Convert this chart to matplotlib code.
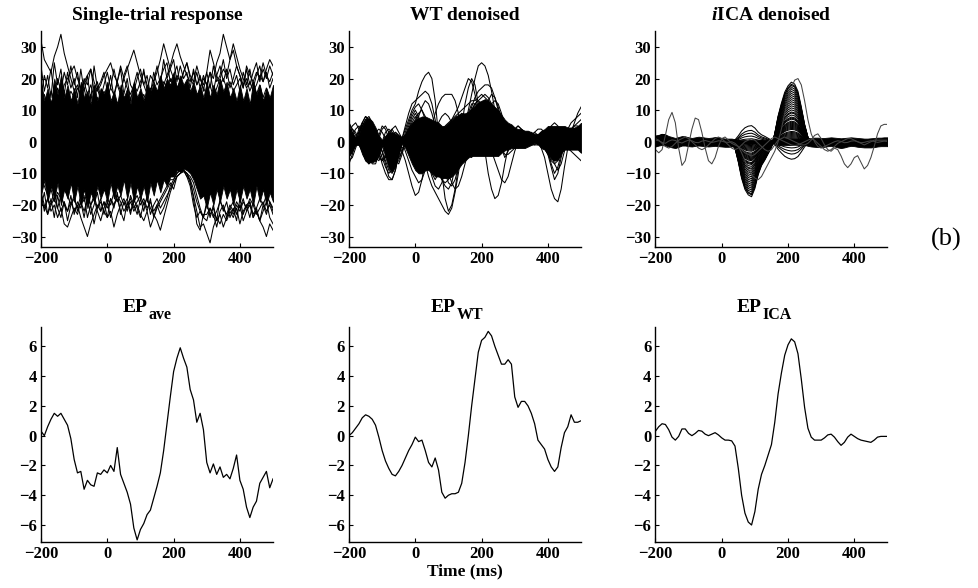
import numpy as np
import matplotlib
matplotlib.use('Agg')
import matplotlib.pyplot as plt

# time axis (ms), one sample every 10 ms
time_ms = np.arange(-200, 501, 10)

# ---------- averaged evoked potentials (bottom row) ----------
ep_ave = [0.3, 0.0, 0.6, 1.1, 1.5, 1.3, 1.5, 1.1, 0.7, -0.2,
          -1.6, -2.5, -2.4, -3.6, -3.0, -3.3, -3.4, -2.5, -2.6, -2.3,
          -2.5, -2.0, -2.4, -0.8, -2.6, -3.2, -3.8, -4.6, -6.2, -7.0,
          -6.3, -5.9, -5.3, -5.0, -4.2, -3.4, -2.5, -1.0, 0.8, 2.6,
          4.3, 5.2, 5.9, 5.2, 4.6, 3.1, 2.4, 0.9, 1.5, 0.4,
          -1.8, -2.5, -1.9, -2.6, -2.1, -2.8, -2.6, -2.9, -2.2, -1.3,
          -3.0, -3.6, -4.8, -5.5, -4.8, -4.4, -3.2, -2.8, -2.4, -3.5, -2.9]

ep_wt = [0.0, 0.2, 0.5, 0.8, 1.2, 1.4, 1.3, 1.1, 0.7, -0.1,
         -1.0, -1.7, -2.2, -2.6, -2.7, -2.4, -2.0, -1.5, -1.0, -0.6,
         -0.1, -0.4, -0.3, -1.0, -1.8, -2.1, -1.5, -2.3, -3.8, -4.2,
         -4.0, -3.9, -3.9, -3.8, -3.2, -1.8, 0.0, 2.0, 3.8, 5.6,
         6.4, 6.6, 7.0, 6.7, 6.0, 5.4, 4.8, 4.8, 5.1, 4.8,
         2.6, 1.9, 2.3, 2.3, 2.0, 1.5, 0.8, -0.3, -0.6, -0.9,
         -1.6, -2.1, -2.4, -2.1, -0.8, 0.2, 0.6, 1.4, 0.9, 0.9, 1.0]

ep_ica = [0.3, 0.6, 0.8, 0.75, 0.4, -0.1, -0.3, -0.05, 0.45, 0.45,
          0.15, 0.0, 0.15, 0.35, 0.3, 0.1, 0.0, 0.1, 0.2, 0.05,
          -0.15, -0.3, -0.3, -0.35, -0.7, -2.2, -4.0, -5.2, -5.8, -6.0,
          -5.1, -3.6, -2.6, -2.0, -1.3, -0.6, 0.9, 2.8, 4.2, 5.4,
          6.1, 6.5, 6.3, 5.5, 3.8, 1.9, 0.5, -0.1, -0.3, -0.3,
          -0.3, -0.15, 0.05, 0.1, -0.1, -0.4, -0.65, -0.45, -0.1, 0.1,
          -0.05, -0.2, -0.3, -0.35, -0.4, -0.45, -0.3, -0.1, -0.05, -0.05, -0.05]

# ---------- single-trial responses (top left) ----------
# dense core where the trials overlap
raw_core_upper = [19, 13, 17, 12, 20, 15, 21, 14, 18, 13,
                  17, 12, 19, 14, 16, 12, 18, 13, 17, 15,
                  19, 13, 16, 12, 18, 14, 17, 12, 19, 14,
                  17, 13, 18, 15, 19, 16, 21, 17, 20, 18,
                  22, 17, 21, 18, 20, 16, 19, 15, 18, 14,
                  19, 14, 18, 15, 20, 16, 19, 14, 17, 13,
                  18, 13, 17, 12, 19, 15, 18, 13, 17, 14, 18]
raw_core_lower = [-17, -12, -19, -14, -18, -13, -20, -15, -18, -13,
                  -19, -14, -20, -15, -21, -16, -19, -14, -18, -15,
                  -19, -13, -18, -14, -17, -12, -18, -13, -19, -14,
                  -18, -14, -19, -13, -17, -12, -16, -12, -14, -11,
                  -11, -9, -9.5, -8.5, -9, -10, -12, -15, -18, -17,
                  -21, -16, -20, -15, -19, -14, -18, -15, -20, -15,
                  -19, -14, -18, -15, -20, -14, -19, -15, -20, -16, -19]
# individual trials at the edges of the band
raw_trials = [
    [32, 26, 24, 22, 27, 30, 34, 28, 24, 20,
     16, 18, 14, 17, 12, 15, 11, 14, 10, 13,
     9, 12, 8, 11, 14, 10, 13, 9, 12, 10,
     13, 15, 12, 16, 19, 22, 26, 31, 27, 23,
     20, 17, 19, 15, 18, 14, 16, 13, 17, 20,
     18, 22, 20, 25, 28, 34, 30, 26, 29, 24,
     21, 18, 20, 16, 19, 15, 18, 14, 17, 13, 15],
    [12, 15, 11, 16, 13, 17, 14, 18, 20, 22,
     24, 20, 17, 19, 15, 18, 14, 17, 13, 16,
     14, 17, 15, 19, 16, 20, 23, 26, 29, 25,
     21, 18, 15, 17, 13, 16, 14, 18, 21, 24,
     28, 31, 27, 24, 21, 19, 22, 18, 20, 17,
     15, 18, 14, 17, 20, 23, 21, 26, 31, 27,
     23, 20, 17, 19, 16, 18, 21, 19, 23, 26, 24],
    [8, 11, 9, 13, 10, 14, 12, 15, 13, 16,
     14, 17, 15, 19, 21, 23, 19, 16, 18, 21,
     23, 25, 21, 19, 24, 20, 17, 15, 18, 16,
     19, 22, 18, 15, 17, 14, 16, 19, 17, 20,
     18, 21, 19, 22, 25, 21, 19, 24, 20, 18,
     22, 29, 25, 21, 18, 20, 17, 19, 16, 18,
     20, 17, 24, 21, 19, 22, 20, 25, 21, 19, 22],
    [24, 16, 21, 14, 25, 18, 23, 15, 22, 17,
     20, 14, 23, 16, 21, 13, 24, 17, 19, 22,
     16, 21, 14, 19, 23, 15, 20, 13, 18, 22,
     17, 23, 16, 21, 19, 24, 18, 26, 20, 23,
     26, 19, 24, 20, 22, 17, 23, 18, 21, 16,
     22, 17, 24, 19, 21, 26, 20, 23, 18, 21,
     16, 22, 18, 23, 17, 21, 24, 19, 22, 17, 20],
    [14, 21, 17, 23, 15, 20, 16, 22, 18, 24,
     18, 22, 15, 20, 18, 23, 16, 19, 14, 18,
     22, 17, 23, 18, 15, 21, 24, 18, 16, 20,
     23, 18, 21, 15, 22, 18, 20, 23, 25, 19,
     21, 24, 18, 22, 25, 20, 18, 22, 17, 21,
     18, 22, 16, 21, 24, 19, 23, 17, 20, 24,
     21, 17, 23, 18, 22, 25, 19, 23, 20, 24, 21],
    [-19, -21, -18, -22, -20, -24, -21, -26, -27, -24,
     -21, -23, -19, -22, -18, -20, -17, -21, -19, -22,
     -24, -22, -27, -23, -20, -18, -21, -19, -22, -20,
     -23, -25, -22, -27, -24, -21, -19, -17, -15, -13,
     -15, -11, -10, -9, -11, -12, -18, -26, -28, -23,
     -23, -21, -24, -22, -19, -21, -23, -20, -22, -19,
     -21, -18, -22, -20, -24, -22, -25, -27, -30, -26, -28],
    [-16, -20, -23, -20, -18, -21, -17, -20, -22, -19,
     -22, -20, -24, -27, -30, -26, -23, -20, -22, -19,
     -21, -18, -20, -17, -19, -22, -20, -18, -21, -19,
     -17, -20, -18, -21, -23, -25, -28, -24, -20, -16,
     -13, -11, -10, -9, -10, -13, -17, -22, -27, -26,
     -29, -32, -27, -24, -26, -23, -25, -22, -24, -21,
     -26, -22, -20, -19, -23, -21, -18, -20, -17, -19, -21],
    [-12, -14, -17, -15, -19, -16, -18, -15, -17, -20,
     -18, -21, -17, -19, -16, -20, -18, -22, -25, -21,
     -18, -20, -16, -19, -17, -20, -18, -22, -19, -17,
     -20, -18, -21, -19, -22, -20, -18, -16, -14, -12,
     -12, -10, -9, -9, -11, -14, -20, -24, -22, -24,
     -20, -23, -21, -25, -23, -27, -24, -21, -23, -20,
     -22, -19, -21, -18, -20, -23, -21, -19, -22, -20, -23],
    [-21, -16, -23, -18, -24, -17, -22, -19, -25, -20,
     -17, -22, -19, -24, -18, -23, -20, -16, -22, -19,
     -24, -18, -21, -16, -23, -19, -22, -17, -20, -23,
     -18, -22, -17, -23, -20, -18, -21, -19, -17, -15,
     -13, -11, -10, -9.5, -10, -12, -15, -19, -22, -24,
     -19, -24, -20, -25, -18, -22, -19, -24, -21, -25,
     -18, -23, -20, -24, -19, -22, -25, -20, -23, -19, -22],
    [-16, -22, -18, -20, -15, -21, -24, -19, -22, -17,
     -23, -19, -21, -17, -24, -20, -26, -21, -18, -23,
     -19, -24, -20, -18, -22, -25, -19, -23, -18, -21,
     -24, -19, -22, -18, -24, -20, -23, -21, -18, -14,
     -12, -10, -9, -9, -10, -11, -13, -17, -21, -24,
     -25, -21, -23, -27, -22, -20, -24, -21, -19, -23,
     -20, -25, -22, -19, -24, -21, -25, -22, -19, -24, -26],
]

# ---------- WT denoised trials (top middle) ----------
wt_core_upper = [4.5, 2.5, 1.5, 2, 5, 7, 7.5, 6.5, 4.5, 2,
                 0.5, 2, 3, 3, 2.5, 2, 1.5, 2.5, 4.5, 6,
                 7, 7.5, 8, 8, 7.5, 7, 6.5, 6, 5, 5,
                 6, 7, 8, 8.5, 9, 9, 9.5, 10.5, 11.5, 12.5,
                 13, 13.5, 13, 12, 11, 10, 8.5, 7, 6, 5.5,
                 4.5, 4, 4, 3.5, 3.5, 3, 2.5, 2.5, 3.5, 4,
                 5, 5, 5, 5, 5, 5, 4.5, 4.5, 4.5, 5, 6]
wt_core_lower = [-4.5, -3, -1, -1, -4, -6, -6.5, -6.5, -6, -3.5,
                 -1, -5, -8.5, -9.5, -7.5, -4, -0.3, -2, -4.5, -7,
                 -9, -10, -10, -9, -9, -10, -11, -11, -11.5, -11.5,
                 -11.5, -11, -10, -8.5, -7, -6, -5, -4.5, -4.5, -4.5,
                 -4.5, -4.5, -4.5, -4.5, -4.5, -4.5, -3.5, -2.5, -2.5, -2,
                 -2, -2, -2, -2, -1.5, -1, -0.3, -0.8, -2, -2.5,
                 -4, -5.5, -6, -5.5, -3.5, -2.5, -2.5, -2.5, -2.5, -2.5, -3.5]
wt_trials = [
    [2, 1, 0, 2, 5, 7, 8, 6, 3, 0,
     -3, -6, -9, -10, -8, -4, 0, 2, 4, 6,
     8, 6, 3, 0, -3, -6, -8, -10, -12, -13,
     -12, -10, -7, -3, 1, 5, 10, 15, 20, 24,
     25, 24, 21, 16, 10, 4, -2, -5, -3, 0,
     2, 3, 3, 2, 1, 0, 1, 2, 3, 2,
     0, -3, -6, -5, -2, 1, 3, 4, 5, 5, 4],
    [-3, -2, 0, 1, 3, 5, 6, 4, 1, -2,
     -5, -8, -10, -9, -6, -2, 1, 4, 7, 10,
     12, 16, 19, 21, 22, 20, 13, 2, -10, -18,
     -22, -20, -15, -8, -2, 3, 7, 10, 12, 13,
     12, 10, 8, 7, 6, 5, 5, 4, 3, 2,
     1, 0, 1, 2, 3, 2, 1, 0, -1, -2,
     -4, -8, -12, -10, -5, -1, 2, 4, 5, 6, 7],
    [4, 3, 1, -1, -3, -4, -3, 0, 3, 4,
     3, 1, -2, -5, -7, -6, -3, 0, 2, 5,
     7, 9, 10, 8, 5, 0, -5, -9, -12, -14,
     -15, -13, -8, -2, 5, 12, 17, 20, 18, 12,
     5, -3, -10, -15, -18, -17, -13, -7, -2, 2,
     4, 5, 4, 3, 2, 1, 0, -1, -1, 0,
     -3, -7, -10, -8, -4, 0, 2, 3, 2, 1, 0],
    [-5, -3, 0, 3, 6, 8, 7, 3, -1, -4,
     -6, -5, -2, 1, 3, 2, 1, 0, -1, -2,
     -4, -6, -8, -9, -8, -6, -3, 0, 3, 5,
     6, 7, 8, 9, 10, 11, 12, 13, 13, 14,
     15, 14, 13, 11, 9, 8, 7, 6, 5, 4,
     3, 2, 1, 0, 0, 1, 1, 0, -2, -5,
     -10, -15, -18, -19, -15, -8, -2, 2, 4, 3, 2],
    [6, 4, 2, 3, 5, 4, 1, -3, -6, -5,
     -2, 1, 3, 4, 2, -1, -3, -6, -10, -14,
     -17, -16, -12, -6, 0, 5, 9, 12, 14, 15,
     15, 15, 13, 9, 4, -1, -4, -5, -3, 1,
     6, 10, 13, 15, 14, 11, 7, 4, 2, 1,
     0, -1, 0, 1, 2, 3, 2, 1, 0, 1,
     2, 3, 4, 3, 2, 0, -2, -3, -4, -5, -6],
    [0, -1, 1, 4, 6, 5, 2, -2, -5, -6,
     -4, -1, 2, 4, 5, 3, 1, 2, 5, 8,
     10, 8, 4, -1, -6, -10, -12, -10, -5, 0,
     4, 7, 9, 11, 14, 17, 20, 19, 15, 10,
     6, 3, 0, -3, -6, -9, -12, -13, -11, -7,
     -3, 0, 2, 3, 3, 2, 1, 0, 0, 1,
     1, 0, -2, -4, -3, -1, 1, 3, 6, 9, 11],
    [-7, -4, 0, 3, 5, 7, 7, 5, 1, -3,
     -7, -10, -12, -12, -9, -4, 1, 5, 9, 12,
     13, 14, 15, 16, 15, 12, 7, 1, -5, -10,
     -13, -14, -12, -8, -3, 2, 7, 11, 14, 16,
     17, 18, 18, 17, 14, 10, 6, 3, 1, 0,
     -1, -1, 0, 1, 2, 2, 1, 0, 0, -1,
     -2, -4, -7, -9, -7, -3, 0, 2, 3, 4, 5],
    [3, 5, 6, 4, 0, -4, -7, -6, -3, 1,
     4, 5, 3, 0, -3, -5, -3, 0, 3, 5,
     4, 1, -3, -7, -11, -14, -16, -18, -20, -22,
     -23, -21, -16, -10, -3, 4, 9, 12, 12, 11,
     10, 9, 10, 12, 13, 12, 9, 5, 2, 0,
     -1, -2, -1, 0, 1, 2, 3, 2, 1, 0,
     -1, -3, -5, -6, -4, -2, 0, 1, 0, -1, -2],
    [6, 3, 0, 2, 6, 8, 7, 4, 1, -1,
     -3, -7, -11, -12, -9, -4, -1, 3, 6, 9,
     11, 12, 10, 7, 4, 1, -2, -5, -8, -10,
     -11, -10, -8, -5, -1, 3, 7, 10, 12, 13,
     14, 15, 14, 12, 10, 8, 6, 4, 3, 3,
     4, 5, 4, 3, 2, 2, 3, 4, 4, 3,
     1, -2, -4, -3, -1, 2, 4, 6, 7, 8, 9],
    [-6, -5, -2, 1, 4, 6, 5, 2, -2, -5,
     -6, -4, -1, 2, 3, 2, 0, -3, -6, -9,
     -11, -13, -12, -9, -5, -1, 3, 6, 8, 9,
     8, 6, 3, 0, -2, -3, -2, 1, 5, 9,
     12, 13, 12, 9, 5, 1, -2, -4, -4, -3,
     -2, -1, 0, 1, 1, 0, -1, -1, 0, 1,
     3, 5, 6, 5, 3, 1, -1, -2, -1, 0, 1],
    [2, 4, 3, 0, -3, -6, -7, -5, -2, 2,
     5, 4, 1, -3, -6, -7, -4, 0, 4, 7,
     9, 7, 3, -2, -7, -11, -14, -15, -13, -9,
     -4, 1, 5, 8, 9, 8, 6, 5, 6, 8,
     10, 11, 10, 8, 5, 3, 1, 0, 1, 2,
     3, 3, 2, 1, 0, -1, -1, 0, 1, 2,
     2, 1, -1, -3, -2, 0, 2, 3, 3, 2, 1],
    [-1, 2, 4, 5, 3, 0, -4, -7, -7, -4,
     0, 3, 4, 3, 1, -1, -2, -1, 1, 3,
     5, 8, 11, 13, 12, 9, 5, 1, -3, -7,
     -10, -13, -15, -14, -11, -7, -3, 1, 5, 8,
     9, 8, 6, 3, 0, -2, -3, -3, -2, -1,
     0, 1, 2, 3, 3, 2, 1, 0, -1, -2,
     -4, -6, -7, -6, -3, 0, 2, 3, 2, 0, -2],
]

# ---------- iICA denoised trials (top right) ----------
# amplitude of the ICA component in each trial
ica_trial_weights = [2.9, 2.8, 2.75, 2.65, 2.55, 2.45, 2.35, 2.25, 2.15, 2.05,
                     1.95, 1.85, 1.75, 1.65, 1.55, 1.45, 1.4, 1.3, 1.2, 1.15,
                     1.1, 1.0, 0.95, 0.9, 0.85, 0.8, 0.75, 0.7, 0.65, 0.6,
                     0.5, 0.45, 0.4, 0.35, 0.3, 0.25, 0.2, 0.15, 0.1, 0.05,
                     -0.05, -0.15, -0.3, -0.45, -0.6, -0.85]
# residual background band around zero
ica_band_upper = [2.0, 2.2, 2.5, 2.3, 1.8, 1.5, 1.2, 1.5, 1.8, 1.7,
                  1.4, 1.2, 1.4, 1.6, 1.5, 1.3, 1.2, 1.3, 1.5, 1.4,
                  1.2, 1.0, 1.0, 1.0, 0.8, 0.5, 0.5, 0.5, 0.5, 0.5,
                  0.5, 0.5, 0.5, 0.5, 0.5, 0.5, 0.8, 1.0, 1.0, 1.0,
                  1.0, 1.0, 1.0, 1.0, 1.0, 1.0, 1.2, 1.2, 1.3, 1.3,
                  1.2, 1.2, 1.3, 1.4, 1.3, 1.2, 1.1, 1.2, 1.3, 1.4,
                  1.3, 1.2, 1.1, 1.0, 1.0, 1.1, 1.2, 1.3, 1.3, 1.4, 1.4]
ica_band_lower = [-1.5, -1.2, -1.0, -1.2, -1.5, -1.8, -2.0, -1.6, -1.2, -1.2,
                  -1.4, -1.5, -1.3, -1.2, -1.3, -1.4, -1.5, -1.4, -1.3, -1.4,
                  -1.5, -1.6, -1.6, -1.5, -1.2, -0.8, -0.5, -0.5, -0.5, -0.5,
                  -0.5, -0.5, -0.5, -0.5, -0.5, -0.5, -0.8, -1.0, -1.0, -1.0,
                  -1.0, -1.0, -1.0, -1.0, -1.0, -1.0, -1.3, -1.5, -1.6, -1.7,
                  -1.7, -1.6, -1.4, -1.3, -1.5, -1.8, -2.0, -1.8, -1.5, -1.3,
                  -1.4, -1.6, -1.7, -1.8, -1.8, -1.8, -1.7, -1.5, -1.4, -1.4, -1.4]
ica_odd_trials = [
    [-2.5, -3.5, -2.5, 2.0, 7.0, 9.3, 6.0, -2.0, -7.5, -6.0,
     -1.0, 4.0, 7.5, 7.0, 3.0, -2.0, -6.0, -7.0, -5.0, -1.5,
     1.0, 1.5, 0.5, -0.5, -1.0, -1.5, -2.5, -3.5, -4.0, -4.5,
     -4.0, -3.0, -2.0, -1.0, 0.0, 1.0, 1.5, 1.0, 0.5, 0.0,
     -0.5, -1.0, -1.2, -1.0, -0.5, 0.0, 0.5, 1.0, 0.5, -0.5,
     -1.5, -2.5, -3.0, -2.5, -1.5, -0.5, 0.0, 0.5, 1.0, 1.0,
     0.5, 0.0, -0.5, -1.0, -0.5, 0.0, 0.5, 0.5, 0.5, 0.5, 0.5],
    [1.0, 0.5, -0.5, -1.5, -2.0, -1.5, -0.5, 0.5, 1.0, 1.5,
     1.0, 0.0, -1.0, -2.0, -2.5, -2.0, -1.0, 0.0, 1.0, 1.5,
     1.0, 0.0, -1.0, -2.0, -2.5, -2.0, -1.0, 0.0, 0.5, 1.0,
     0.5, -0.5, -1.5, -2.5, -3.0, -2.5, -1.0, 0.5, 1.0, 1.5,
     1.0, 0.5, 0.0, -0.5, -1.0, -1.0, -0.5, 0.5, 2.0, 2.5,
     1.0, -1.0, -2.5, -3.0, -2.0, -2.5, -4.5, -7.0, -8.2, -7.0,
     -5.0, -4.4, -6.5, -8.6, -7.5, -5.0, -1.5, 2.5, 5.0, 5.5, 5.5],
    [0.5, 0.3, -0.2, -0.5, 0.2, 0.6, 0.4, -0.1, -0.4, 0.1,
     0.5, 0.3, -0.2, -0.3, 0.2, 0.4, 0.1, -0.2, 0.0, 0.3,
     0.2, -0.1, -0.2, 0.0, -0.5, -1.5, -3.5, -6.0, -8.5, -10.5,
     -11.5, -12.0, -11.0, -9.0, -7.0, -5.0, -3.0, 0.0, 4.0, 9.0,
     13.5, 17.0, 19.5, 20.0, 18.0, 13.0, 7.0, 2.5, 0.0, -1.5,
     -2.0, -1.5, -1.0, -0.5, 0.0, 0.3, 0.1, -0.3, -0.2, 0.2,
     0.3, 0.0, -0.3, -0.2, 0.1, 0.3, 0.1, -0.2, 0.0, 0.2, 0.1],
]

top_titles = ['Single-trial response', 'WT denoised', r'$\mathit{i}$ICA denoised']
ep_subscripts = ['ave', 'WT', 'ICA']

plt.rcParams['font.family'] = ['Liberation Serif', 'DejaVu Serif']
plt.rcParams['font.weight'] = 'bold'
plt.rcParams['mathtext.fontset'] = 'custom'
plt.rcParams['mathtext.rm'] = 'Liberation Serif:bold'
plt.rcParams['mathtext.it'] = 'Liberation Serif:italic:bold'
plt.rcParams['mathtext.bf'] = 'Liberation Serif:bold'


def style_axes(ax, ylim, yticks):
    ax.set_xlim(-200, 500)
    ax.set_ylim(*ylim)
    ax.set_xticks([-200, 0, 200, 400])
    ax.set_yticks(yticks)
    for side in ['top', 'right']:
        ax.spines[side].set_visible(False)
    for side in ['left', 'bottom']:
        ax.spines[side].set_linewidth(1.0)
    ax.tick_params(direction='in', length=3, width=0.8, labelsize=12, pad=3)
    for lab in ax.get_xticklabels() + ax.get_yticklabels():
        lab.set_fontweight('bold')


fig = plt.figure(figsize=(9.79, 5.88), dpi=100)
lefts = [0.0419, 0.3565, 0.6695]
width = 0.237
top_axes = [fig.add_axes([l, 0.580, width, 0.367]) for l in lefts]
bot_axes = [fig.add_axes([l, 0.078, width, 0.366]) for l in lefts]

line_kw = dict(color='black', lw=0.75)

# single trials
ax = top_axes[0]
ax.fill_between(time_ms, raw_core_lower, raw_core_upper, color='black', lw=0.6)
for tr in raw_trials:
    ax.plot(time_ms, tr, **line_kw)

# WT denoised
ax = top_axes[1]
ax.fill_between(time_ms, wt_core_lower, wt_core_upper, color='black', lw=0.6)
for tr in wt_trials:
    ax.plot(time_ms, tr, **line_kw)

# iICA denoised
ax = top_axes[2]
ax.fill_between(time_ms, ica_band_lower, ica_band_upper, color='black', lw=0.6)
comp = np.array(ep_ica)
for w in ica_trial_weights:
    ax.plot(time_ms, w * comp, **line_kw)
for tr in ica_odd_trials:
    ax.plot(time_ms, tr, color='#444444', lw=0.75)

for ax, title in zip(top_axes, top_titles):
    style_axes(ax, (-33.3, 35), [-30, -20, -10, 0, 10, 20, 30])
    ax.set_title(title, fontsize=14, fontweight='bold', pad=8)

for ax, ep, sub in zip(bot_axes, [ep_ave, ep_wt, ep_ica], ep_subscripts):
    ax.plot(time_ms, ep, color='black', lw=0.9)
    style_axes(ax, (-7.15, 7.3), [-6, -4, -2, 0, 2, 4, 6])
    ax.annotate('EP', xy=(0.457, 1.0), xycoords='axes fraction',
                xytext=(0, 11), textcoords='offset points',
                ha='right', va='baseline', fontsize=14, fontweight='bold')
    ax.annotate(sub, xy=(0.457, 1.0), xycoords='axes fraction',
                xytext=(1, 6), textcoords='offset points',
                ha='left', va='baseline', fontsize=11.5, fontweight='bold')

bot_axes[1].set_xlabel('Time (ms)', fontsize=12.5, fontweight='bold', labelpad=1)

fig.text(0.967, 0.592, '(b)', fontsize=19, fontweight='normal',
         ha='center', va='center')

fig.savefig('out.png', dpi=100)
